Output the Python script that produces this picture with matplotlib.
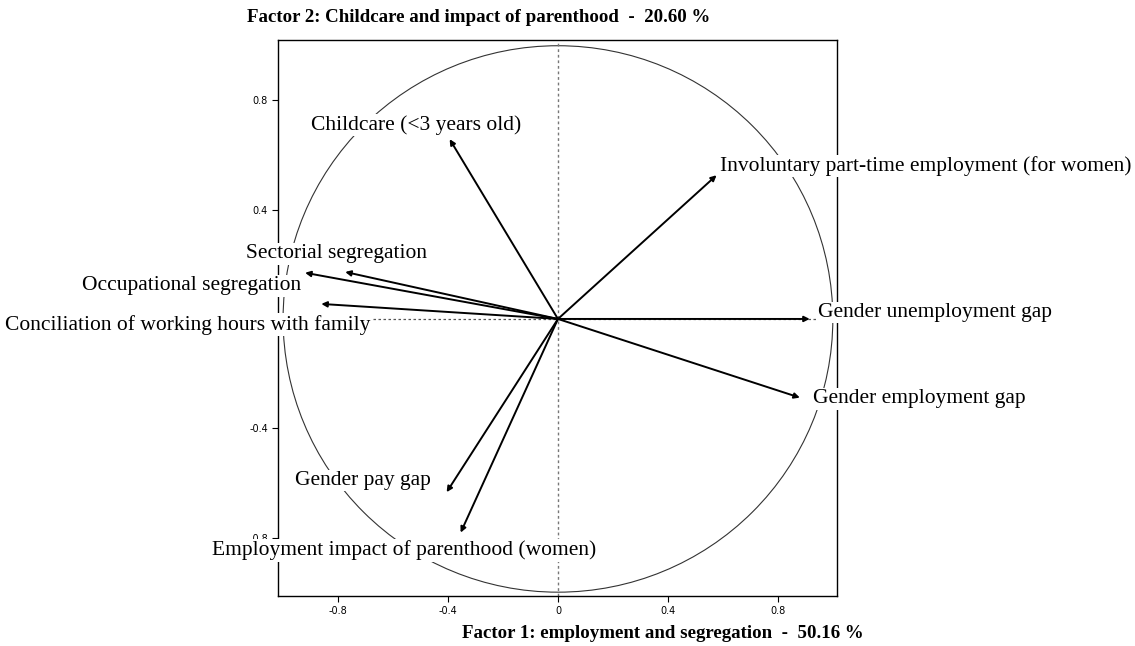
import numpy as np
import matplotlib.pyplot as plt
from matplotlib.patches import Circle

# variable coordinates on factor 1 / factor 2
names = ['Childcare (<3 years old)',
         'Involuntary part-time employment (for women)',
         'Sectorial segregation',
         'Occupational segregation',
         'Conciliation of working hours with family',
         'Gender unemployment gap',
         'Gender employment gap',
         'Gender pay gap',
         'Employment impact of parenthood (women)']
f1 = [-0.394, 0.577, -0.774, -0.920, -0.861, 0.916, 0.880, -0.405, -0.354]
f2 = [0.658, 0.526, 0.172, 0.169, 0.055, 0.000, -0.288, -0.634, -0.782]
# label centres
lab_x = [-0.515, 1.337, -0.807, -1.333, -1.348, 1.370, 1.315, -0.709, -0.559]
lab_y = [0.710, 0.560, 0.238, 0.121, -0.021, 0.023, -0.292, -0.591, -0.847]

ticks = [-0.8, -0.4, 0, 0.4, 0.8]
tick_labels = ['-0.8', '-0.4', '0', '0.4', '0.8']

fig = plt.figure(figsize=(11.35, 6.46), dpi=100)
ax = fig.add_axes([0.2453, 0.0774, 0.4921, 0.8607])
ax.set_xlim(-1.017, 1.015)
ax.set_ylim(-1.014, 1.021)

ax.add_patch(Circle((0, 0), 1.0, fill=False, color='#333333', lw=0.8))
ax.axhline(0, color='#555555', ls=(0, (2, 2)), lw=0.9)
ax.axvline(0, color='#777777', ls=(0, (2, 2)), lw=1.0)

for i in range(len(names)):
    ax.annotate('', xy=(f1[i], f2[i]), xytext=(0, 0),
                arrowprops=dict(arrowstyle='-|>', color='black', lw=1.4,
                                mutation_scale=8, shrinkA=0, shrinkB=0))
for i in range(len(names)):
    ax.text(lab_x[i], lab_y[i], names[i], ha='center', va='center',
            fontsize=15.5, family='Liberation Serif', clip_on=False, zorder=5,
            bbox=dict(facecolor='white', edgecolor='none', pad=1))

ax.set_xticks(ticks)
ax.set_xticklabels(tick_labels)
ax.set_yticks(ticks)
ax.set_yticklabels(tick_labels)
ax.tick_params(labelsize=7, length=4, direction='out')
for s in ax.spines.values():
    s.set_linewidth(1.0)

fig.text(247 / 1135, 1 - 18 / 646, 'Factor 2: Childcare and impact of parenthood  -  20.60 %',
         ha='left', va='center', fontsize=13.6, fontweight='bold', family='Liberation Serif')
fig.text(864 / 1135, 1 - 633 / 646, 'Factor 1: employment and segregation  -  50.16 %',
         ha='right', va='center', fontsize=13.6, fontweight='bold', family='Liberation Serif')

fig.savefig('out.png', dpi=100)
